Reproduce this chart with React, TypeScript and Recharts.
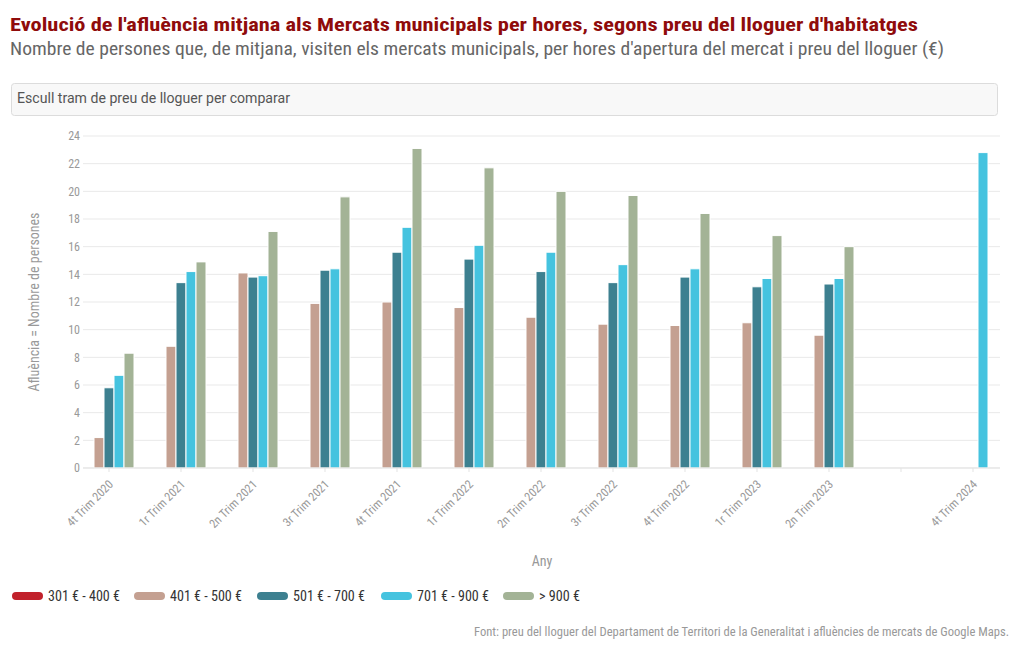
import React from "react";
import { BarChart, Bar, XAxis, YAxis, CartesianGrid } from "recharts";

const categories = [
  "4t Trim 2020", "1r Trim 2021", "2n Trim 2021", "3r Trim 2021", "4t Trim 2021",
  "1r Trim 2022", "2n Trim 2022", "3r Trim 2022", "4t Trim 2022", "1r Trim 2023",
  "2n Trim 2023", "", "4t Trim 2024",
];
const s301_400: (number | null)[] = [null, null, null, null, null, null, null, null, null, null, null, null, null];
const s401_500: (number | null)[] = [2.2, 8.8, 14.1, 11.9, 12.0, 11.6, 10.9, 10.4, 10.3, 10.5, 9.6, null, null];
const s501_700: (number | null)[] = [5.8, 13.4, 13.8, 14.3, 15.6, 15.1, 14.2, 13.4, 13.8, 13.1, 13.3, null, null];
const s701_900: (number | null)[] = [6.7, 14.2, 13.9, 14.4, 17.4, 16.1, 15.6, 14.7, 14.4, 13.7, 13.7, null, 22.8];
const s900: (number | null)[] = [8.3, 14.9, 17.1, 19.6, 23.1, 21.7, 20.0, 19.7, 18.4, 16.8, 16.0, null, null];

const seriesNames = ["301 € - 400 €", "401 € - 500 €", "501 € - 700 €", "701 € - 900 €", "> 900 €"];
const seriesColors = ["#c1212b", "#c4a091", "#3d8090", "#45c3df", "#a3b396"];
const seriesValues = [s301_400, s401_500, s501_700, s701_900, s900];
const yTicks = [0, 2, 4, 6, 8, 10, 12, 14, 16, 18, 20, 22, 24];

const title = "Evolució de l'afluència mitjana als Mercats municipals per hores, segons preu del lloguer d'habitatges";
const subtitle = "Nombre de persones que, de mitjana, visiten els mercats municipals, per hores d'apertura del mercat i preu del lloguer (€)";
const selectText = "Escull tram de preu de lloguer per comparar";
const yTitle = "Afluència = Nombre de persones";
const xTitle = "Any";
const credits = "Font: preu del lloguer del Departament de Territori de la Generalitat i afluències de mercats de Google Maps.";

const data = categories.map((c, i) => {
  const row: Record<string, any> = { cat: c };
  seriesValues.forEach((s, k) => { row["s" + k] = s[i]; });
  return row;
});

const COND = "'Roboto Condensed', 'Liberation Sans Narrow', 'DejaVu Sans Condensed', 'DejaVu Sans', sans-serif";

const XTick = (props: any) => {
  const { x, payload } = props;
  const tx = x + 5;
  const ty = 485;
  return (
    <text x={tx} y={ty} transform={`rotate(-45, ${tx}, ${ty})`} textAnchor="end"
      fill="#999" fontSize={12} fontFamily={COND} style={{ fontStretch: "condensed" }}>
      {payload.value}
    </text>
  );
};

const legendX = [12, 134, 257, 381, 503];
const legendW = [72, 72, 72, 72, 41];

export default function App() {
  return (
    <div style={{ position: "absolute", left: 0, top: 0, width: 1020, height: 650, background: "#fff" }}>
      <div style={{ position: "absolute", left: 0, top: 0 }}>
        <BarChart width={1020} height={650} data={data}
          margin={{ top: 136, right: 20, left: 43, bottom: 92 }} barGap={0} barSize={10}>
          <CartesianGrid vertical={false} stroke="#e9e9e9" />
          <XAxis dataKey="cat" interval={0} height={90} tick={<XTick />}
            axisLine={{ stroke: "#e3e3e3" }} tickLine={{ stroke: "#e3e3e3" }} tickSize={4}
            padding={{ left: -10, right: -9 }} />
          <YAxis width={40} domain={[0, 24]} ticks={yTicks} axisLine={false} tickLine={false}
            tickSize={0} tickMargin={3} interval={0}
            tick={{ fill: "#999", fontSize: 12, fontFamily: COND, style: { fontStretch: "condensed" } } as any} />
          {seriesNames.map((n, k) => (
            <Bar key={n} name={n} dataKey={"s" + k} fill={seriesColors[k]} stroke="#fff" strokeWidth={1}
              isAnimationActive={false} />
          ))}
        </BarChart>
      </div>
      <svg width={1020} height={650} style={{ position: "absolute", left: 0, top: 0, pointerEvents: "none" }}>
        <text x={10} y={31} fontSize={19} fontWeight="bold" fill="#8f0b0b" fontFamily={COND}
          style={{ fontStretch: "condensed" }} textLength={908} lengthAdjust="spacingAndGlyphs">{title}</text>
        <text x={10} y={55} fontSize={18} fill="#666" fontFamily={COND}
          style={{ fontStretch: "condensed" }} textLength={934} lengthAdjust="spacingAndGlyphs">{subtitle}</text>
        <rect x={11.5} y={83.5} width={986} height={32} rx={3} fill="#f8f8f8" stroke="#dcdcdc" />
        <text x={17} y={103} fontSize={14} fill="#555" fontFamily="Roboto, 'Liberation Sans', sans-serif"
          textLength={273} lengthAdjust="spacingAndGlyphs">{selectText}</text>
        <text x={0} y={0} transform="translate(39, 302) rotate(-90)" textAnchor="middle" fontSize={14} fill="#999"
          fontFamily={COND} style={{ fontStretch: "condensed" }} textLength={179} lengthAdjust="spacingAndGlyphs">{yTitle}</text>
        <text x={542} y={566} textAnchor="middle" fontSize={14} fill="#999" fontFamily={COND}
          style={{ fontStretch: "condensed" }}>{xTitle}</text>
        {seriesNames.map((n, k) => (
          <g key={n}>
            <rect x={legendX[k]} y={592} width={31} height={8} rx={4} fill={seriesColors[k]} />
            <text x={legendX[k] + 36} y={601} fontSize={14} fill="#333" fontFamily={COND}
              style={{ fontStretch: "condensed" }} textLength={legendW[k]} lengthAdjust="spacingAndGlyphs">{n}</text>
          </g>
        ))}
        <text x={1009} y={636} textAnchor="end" fontSize={12} fill="#999" fontFamily={COND}
          style={{ fontStretch: "condensed" }} textLength={535} lengthAdjust="spacingAndGlyphs">{credits}</text>
      </svg>
    </div>
  );
}
